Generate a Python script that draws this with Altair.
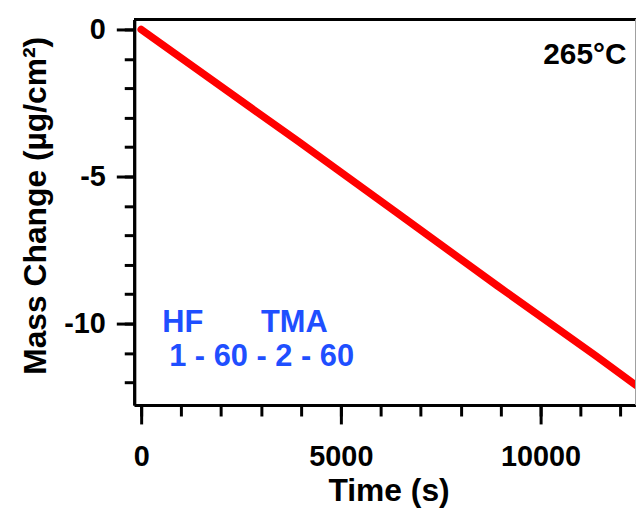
import altair as alt
import pandas as pd

# Data
time_s = [0, 2860, 3930, 6420, 8905, 11390, 12390]
mass_change = [0.0, -2.77, -3.80, -6.25, -8.70, -11.10, -12.10]

x_minor = list(range(0, 13000, 1000))
x_major = [0, 5000, 10000]
y_minor = list(range(-12, 1))
y_major = [0, -5, -10]

x_domain = [-175, 12390]
y_domain = [-12.77, 0.34]

blue_text = ["HF", "TMA", "1 - 60 - 2 - 60"]
blue_t = [530, 3000, 700]
blue_m = [-10.30, -10.30, -11.45]

temp_text = ["265°C"]
temp_t = [12150]
temp_m = [-1.18]

W, H = 505, 388
FONT = "Liberation Sans"

line_df = pd.DataFrame({"t": time_s, "m": mass_change})
blue_df = pd.DataFrame({"t": blue_t, "m": blue_m, "label": blue_text})
temp_df = pd.DataFrame({"t": temp_t, "m": temp_m, "label": temp_text})

common_axis = dict(
    grid=False, domain=True, domainWidth=3, domainColor="black",
    tickWidth=3, tickColor="black", labelFont=FONT, labelFontSize=29,
    labelFontWeight="bold", labelColor="black", labelOverlap=False,
    labelFlush=False,
)
title_style = dict(titleFont=FONT, titleFontSize=32, titleFontWeight="bold",
                   titleColor="black")

# minor ticks on the line layer
x_minor_axis = alt.Axis(values=x_minor, tickSize=11, labels=False, title=None,
                        orient="bottom", **common_axis)
y_minor_axis = alt.Axis(values=y_minor, tickSize=10, labels=False, title=None,
                        orient="left", **common_axis)

x_major_axis = alt.Axis(values=x_major, tickSize=19, labelPadding=19,
                        labelExpr="'' + datum.value", title="Time (s)",
                        titleY=96, titleX=256, titleBaseline="alphabetic",
                        orient="bottom", **common_axis, **title_style)
y_major_axis = alt.Axis(values=y_major, tickSize=18, labelPadding=11,
                        labelExpr="'' + datum.value",
                        title="Mass Change (µg/cm²)", titleX=-82, titleY=187,
                        titleAngle=270, titleBaseline="bottom", titleAlign="center",
                        orient="left", **common_axis, **title_style)

xs = alt.Scale(domain=x_domain, nice=False, zero=False)
ys = alt.Scale(domain=y_domain, nice=False, zero=False)

line = alt.Chart(line_df).mark_line(color="#ff0000", strokeWidth=7.5, clip=True,
                                    strokeCap="round").encode(
    x=alt.X("t:Q", scale=xs, axis=x_minor_axis),
    y=alt.Y("m:Q", scale=ys, axis=y_minor_axis),
)

blue = alt.Chart(blue_df).mark_text(color="#1f4fff", font=FONT, fontSize=31,
                                    fontWeight="bold", align="left",
                                    baseline="alphabetic").encode(
    x=alt.X("t:Q", scale=xs, axis=x_major_axis),
    y=alt.Y("m:Q", scale=ys, axis=y_major_axis),
    text="label:N",
)

temp = alt.Chart(temp_df).mark_text(color="black", font=FONT, fontSize=30,
                                    fontWeight="bold", align="right",
                                    baseline="alphabetic").encode(
    x=alt.X("t:Q", scale=xs, axis=None),
    y=alt.Y("m:Q", scale=ys, axis=None),
    text="label:N",
)

top_border = alt.Chart(line_df).mark_rule(color="black", strokeWidth=3).encode(
    x=alt.value(0), x2=alt.value(W), y=alt.value(0)
)
right_border = alt.Chart(line_df).mark_rule(color="#a0a0a0", strokeWidth=1).encode(
    x=alt.value(W), y=alt.value(0), y2=alt.value(H)
)

chart = alt.layer(line, blue, temp, top_border, right_border).resolve_scale(
    x="independent", y="independent"
).resolve_axis(
    x="independent", y="independent"
).properties(
    width=W, height=H,
    autosize=alt.AutoSizeParams(type="none"),
    padding={"left": 127, "top": 10, "right": 0, "bottom": 102},
    background="white",
).configure_view(strokeWidth=0)

chart.save("out.html", embed_options={"renderer": "svg", "actions": False})
